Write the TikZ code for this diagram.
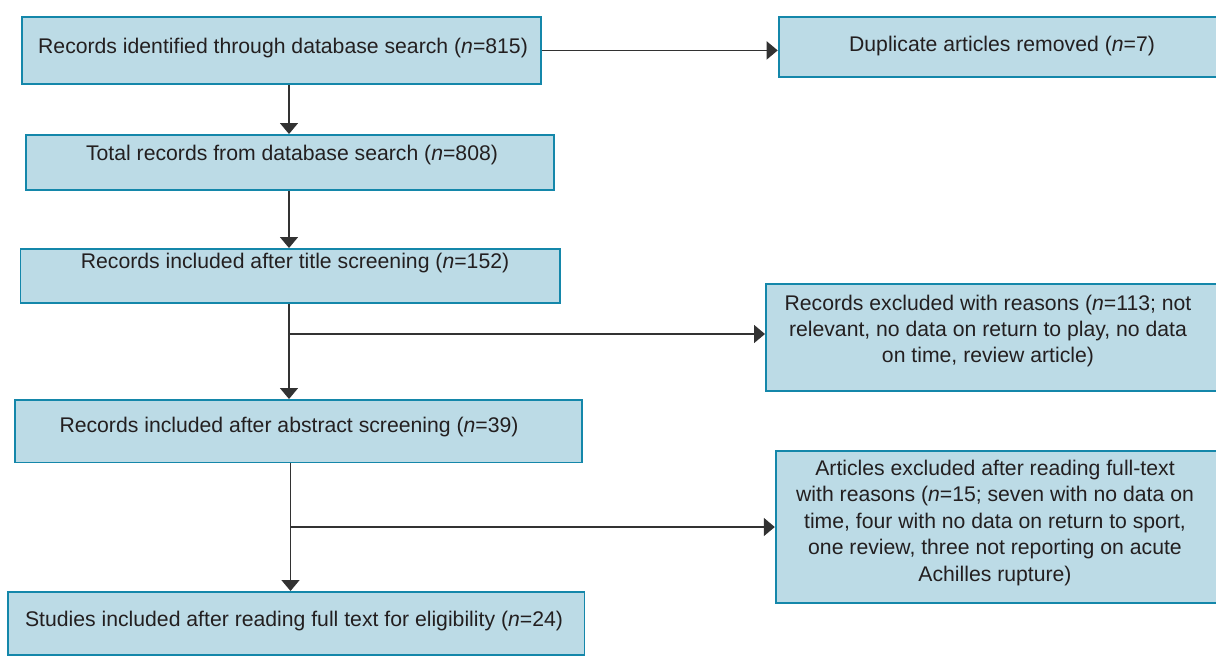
\documentclass[tikz,border=0pt]{standalone}
\usepackage{fontspec}
\setmainfont{Liberation Sans}
\usetikzlibrary{arrows.meta}
\definecolor{boxfill}{RGB}{188,219,230}
\definecolor{boxline}{RGB}{20,135,170}
\definecolor{linecol}{RGB}{50,50,50}
\definecolor{txt}{RGB}{35,31,32}
\begin{document}
\begin{tikzpicture}[x=0.5pt,y=-0.5pt,
  box/.style={draw=boxline, fill=boxfill, line width=0.9pt, inner sep=0pt, anchor=north west},
  lbl/.style={text=txt, font=\fontsize{10.6}{13}\selectfont, align=center, inner sep=0pt},
  conn/.style={draw=linecol, line width=0.8pt, -{Triangle[length=5.5pt,width=9pt]}},
  plainline/.style={draw=linecol, line width=0.8pt}]
\useasboundingbox (0,0) rectangle (1216,655);
% boxes
\node[box, minimum width=259.65pt, minimum height=33.5pt] (b1) at (20.7,16) {};
\node[box, minimum width=220pt, minimum height=30pt] (b2) at (777.7,16) {};
\node[box, minimum width=264.05pt, minimum height=27.5pt] (b3) at (24.9,134) {};
\node[box, minimum width=269.6pt, minimum height=26.85pt] (b4) at (19.5,248) {};
\node[box, minimum width=226pt, minimum height=53.65pt] (b5) at (765,282.7) {};
\node[box, minimum width=283.6pt, minimum height=31.25pt] (b6) at (13.8,399) {};
\node[box, minimum width=221pt, minimum height=76pt] (b7) at (774.8,450) {};
\node[box, minimum width=288.3pt, minimum height=31.5pt] (b8) at (6.9,591) {};
% texts
\node[lbl] (t1) at (283,48.5) {Records identified through database search (\textit{n}=815)};
\node[lbl] (t2) at (1002,46.5) {Duplicate articles removed (\textit{n}=7)};
\node[lbl] (t3) at (292,155) {Total records from database search (\textit{n}=808)};
\node[lbl] (t4) at (295,263) {Records included after title screening (\textit{n}=152)};
\node[lbl] (t5) at (988,331) {Records excluded with reasons (\textit{n}=113; not\\relevant, no data on return to play, no data\\on time, review article)};
\node[lbl] (t6) at (289,427) {Records included after abstract screening (\textit{n}=39)};
\node[lbl, font=\fontsize{10.6}{13.25}\selectfont] (t7) at (995,523) {Articles excluded after reading full-text\\with reasons (\textit{n}=15; seven with no data on\\time, four with no data on return to sport,\\one review, three not reporting on acute\\Achilles rupture)};
\node[lbl] (t8) at (294,621) {Studies included after reading full text for eligibility (\textit{n}=24)};
% connectors
\coordinate (vx) at (289,0);
\coordinate (vy) at (290.5,0);
\coordinate (j1) at (289,334);
\coordinate (j2) at (290.5,527);
\draw[conn] (b1.east) -- (b1.east -| b2.west);
\draw[conn] (b1.south -| vx) -- (b3.north -| vx);
\draw[conn] (b3.south -| vx) -- (b4.north -| vx);
\draw[plainline] (b4.south -| vx) -- (j1);
\draw[conn] (j1) -- (b6.north -| vx);
\draw[conn] (j1) -- (j1 -| b5.west);
\draw[plainline] (b6.south -| vy) -- (j2);
\draw[conn] (j2) -- (b8.north -| vy);
\draw[conn] (j2) -- (j2 -| b7.west);
\end{tikzpicture}
\end{document}
